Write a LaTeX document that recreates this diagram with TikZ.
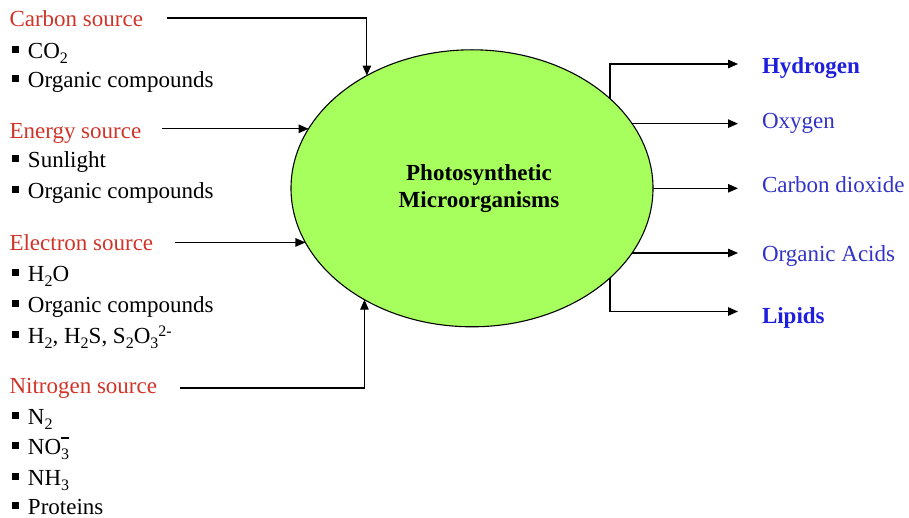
\documentclass[tikz,border=0pt]{standalone}
\usepackage{fontspec}
\setmainfont{Liberation Serif}
\usetikzlibrary{arrows.meta,shapes.geometric}
\definecolor{srcred}{RGB}{208,52,40}
\definecolor{outblue}{RGB}{50,50,200}
\definecolor{outbold}{RGB}{30,30,220}
\definecolor{cellgreen}{RGB}{166,255,92}
\newcommand\mysub[1]{\raisebox{-5pt}{\fontsize{16}{16}\selectfont #1}}
\newcommand\mysup[1]{\raisebox{7pt}{\fontsize{16}{16}\selectfont #1}}
\newcommand\mybul{\rule[5.5pt]{7pt}{7pt}\hspace{8.5pt}}
\newcommand\mybar{\raisebox{15.5pt}{\rule{8pt}{1.1pt}}}
\begin{document}
\begin{tikzpicture}[x=1pt,y=-1pt,
  every node/.style={inner sep=0pt, outer sep=0pt, font=\fontsize{23}{23}\selectfont},
  src/.style={anchor=base west, text=srcred},
  item/.style={anchor=base west, text=black},
  prod/.style={anchor=base west, text=outblue},
  prodb/.style={anchor=base west, text=outbold, font=\fontsize{23}{23}\selectfont\bfseries},
  conn/.style={line width=1.2pt, -{Triangle[length=10pt,width=8.5pt]}},
  cell/.style={draw, ellipse, fill=cellgreen, line width=1.1pt, minimum width=362pt, minimum height=277pt},
]
\useasboundingbox (0,0) rectangle (909,518);

% central cell
\node[cell] (m) at (472,188.3) {};
\node[font=\fontsize{23}{26.7}\selectfont\bfseries, align=center] (lbl) at (479,188.5) {Photosynthetic\\Microorganisms};

% sources
\node[src] (cs) at (9.5,27) {Carbon source};
\node[item] (c1) at (12.5,59) {\mybul CO\mysub{2}};
\node[item] (c2) at (12.5,88) {\mybul Organic compounds};
\node[src] (es) at (9.5,138.5) {Energy source};
\node[item] (e1) at (12.5,168) {\mybul Sunlight};
\node[item] (e2) at (12.5,199) {\mybul Organic compounds};
\node[src] (ls) at (9.5,251) {Electron source};
\node[item] (l1) at (12.5,281.5) {\mybul H\mysub{2}O};
\node[item] (l2) at (12.5,312.5) {\mybul Organic compounds};
\node[item] (l3) at (12.5,343) {\mybul H\mysub{2}, H\mysub{2}S, S\mysub{2}O\mysub{3}\mysup{2-}};
\node[src] (ns) at (9.5,393.5) {Nitrogen source};
\node[item] (n1) at (12.5,424) {\mybul N\mysub{2}};
\node[item] (n2) at (12.5,454) {\mybul NO\rlap{\mysub{3}}\mybar};
\node[item] (n3) at (12.5,485) {\mybul NH\mysub{3}};
\node[item] (n4) at (12.5,514.5) {\mybul Proteins};

% products
\node[prodb] (ph) at (762,73.3) {Hydrogen};
\node[prod] (po) at (762,129) {Oxygen};
\node[prod] (pd) at (762,192.7) {Carbon dioxide};
\node[prod] (pa) at (762,261.7) {Organic Acids};
\node[prodb] (pl) at (762,323) {Lipids};

% input connectors
\coordinate (cS) at (167,18);
\coordinate (eS) at (162,131);
\coordinate (lS) at (175,243);
\coordinate (nS) at (180,388);
\draw[conn] (cS) -| (m.133.9);
\draw[conn] (m.160.9 -| eS) -- (m.160.9);
\draw[conn] (m.198.4 -| lS) -- (m.198.4);
\draw[conn] (nS) -| (m.226.1);

% output connectors
\coordinate (hT) at (738,64);
\coordinate (oT) at (738,122);
\coordinate (dT) at (738,185.5);
\coordinate (aT) at (738,253);
\coordinate (pT) at (738,311.5);
\draw[conn] (m.33.8) |- (hT);
\draw[conn] (m.22.5) -- (m.22.5 -| oT);
\draw[conn] (m.0) -- (m.0 -| dT);
\draw[conn] (m.-22.2) -- (m.-22.2 -| aT);
\draw[conn] (m.-33.8) |- (pT);
\end{tikzpicture}
\end{document}
